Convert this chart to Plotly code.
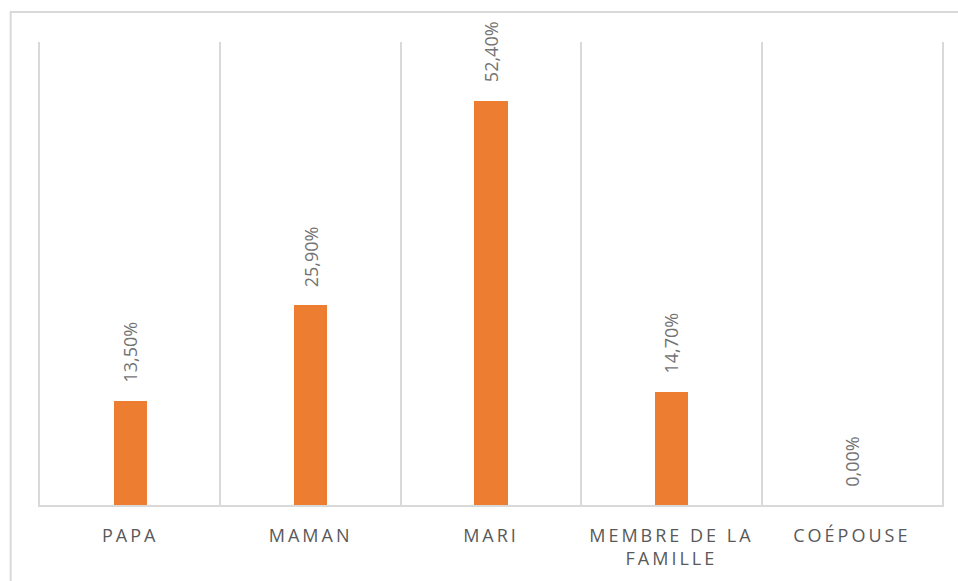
import plotly.graph_objects as go

# Who the respondent lives with / depends on (share of answers)
categories = ["PAPA", "MAMAN", "MARI", "MEMBRE DE LA<br>FAMILLE", "COÉPOUSE"]
values = [13.5, 25.9, 52.4, 14.7, 0.0]
value_labels = [f"{v:.2f}%".replace(".", ",") for v in values]

BAR_COLOR = "#ED7D31"
GRID_COLOR = "#D9D9D9"
TEXT_COLOR = "#595959"
FONT = "Open Sans"

fig = go.Figure(
    go.Bar(
        x=categories,
        y=values,
        marker=dict(color=BAR_COLOR, line=dict(width=0)),
        width=0.185,
        hoverinfo="skip",
    )
)

# Rotated percentage labels sitting above each bar
for cat, v, lab in zip(categories, values, value_labels):
    fig.add_annotation(
        x=cat, y=v, text=lab, textangle=-90,
        showarrow=False, xanchor="center", yanchor="bottom", yshift=16,
        font=dict(family=FONT, size=18, color="#737373"),
    )

# Outer chart frame
fig.add_shape(
    type="rect", xref="paper", yref="paper",
    x0=-0.0325, x1=1.02, y0=-0.25, y1=1.065,
    line=dict(color=GRID_COLOR, width=2), fillcolor="rgba(0,0,0,0)",
    layer="below",
)

fig.update_layout(
    width=958, height=581, autosize=False,
    margin=dict(l=40, r=16, t=42, b=76),
    plot_bgcolor="white", paper_bgcolor="white",
    showlegend=False, bargap=0,
    xaxis=dict(
        type="category", tickson="boundaries",
        showgrid=True, gridcolor=GRID_COLOR, gridwidth=2,
        showline=True, linecolor=GRID_COLOR, linewidth=2,
        ticks="", ticklabelstandoff=13,
        tickfont=dict(family=FONT, size=18, color=TEXT_COLOR),
        range=[-0.5, 4.5], zeroline=False,
    ),
    yaxis=dict(
        range=[0, 60], showgrid=False, showticklabels=False,
        zeroline=False, ticks="",
        # outer category boundaries drawn as left/right edges
        showline=True, mirror=True, linecolor=GRID_COLOR, linewidth=2,
    ),
)

# Widely tracked category labels
post = """
function spaceTicks(){
  document.querySelectorAll('.xtick text').forEach(function(t){
    t.style.letterSpacing = '3px';
  });
}
var gd = document.getElementById('{plot_id}');
spaceTicks();
gd.on('plotly_afterplot', spaceTicks);
"""

fig.write_html("out.html", post_script=post)
